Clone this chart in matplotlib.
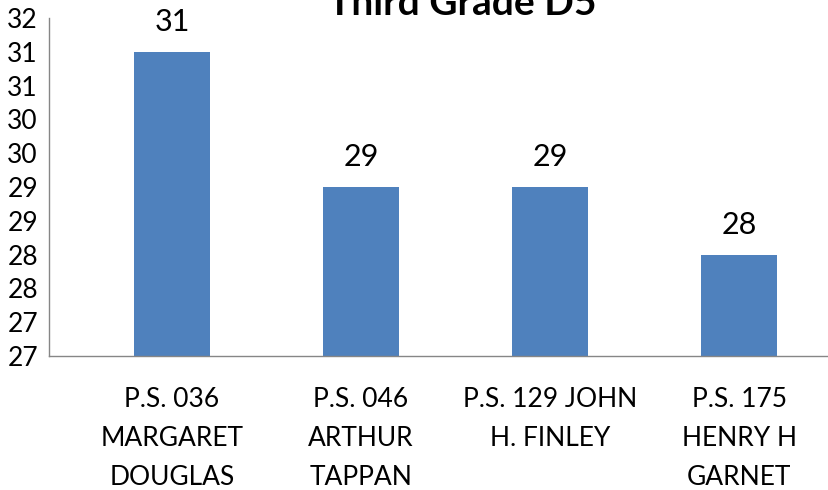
import numpy as np
import matplotlib.pyplot as plt
from matplotlib.ticker import FuncFormatter

plt.rcParams['font.family'] = ['Lato', 'DejaVu Sans']

# Data
schools = ["P.S. 036\nMARGARET\nDOUGLAS", "P.S. 046\nARTHUR\nTAPPAN",
           "P.S. 129 JOHN\nH. FINLEY", "P.S. 175\nHENRY H\nGARNET"]
scores = [31, 29, 29, 28]
title = "Third Grade D5"

fig = plt.figure(figsize=(8.29, 4.90), dpi=100)
ax = fig.add_axes([49 / 829, 1 - 356 / 490, 1 - 49 / 829, (356 - 18) / 490])

x = np.arange(len(scores))
bars = ax.bar(x, scores, width=0.4, color="#4F81BD", zorder=2)

ax.set_ylim(26.5, 31.5)
ax.set_yticks(np.arange(26.5, 31.51, 0.5))
# Excel-style rounding of the half-step ticks
ax.yaxis.set_major_formatter(FuncFormatter(lambda v, p: f"{int(np.floor(v + 0.5))}"))
ax.set_xlim(-0.65, 3.476)
ax.set_xticks(x)
ax.set_xticklabels(schools, fontsize=19, linespacing=1.7, va="top")

ax.tick_params(axis="both", length=0)
ax.tick_params(axis="y", labelsize=19, pad=8)
ax.tick_params(axis="x", pad=22)

for side in ("top", "right"):
    ax.spines[side].set_visible(False)
for side in ("left", "bottom"):
    ax.spines[side].set_color("#868686")
    ax.spines[side].set_linewidth(1)

for b, v in zip(bars, scores):
    ax.annotate(f"{v}", (b.get_x() + b.get_width() / 2, v), xytext=(0, 15),
                textcoords="offset points", ha="center", va="baseline", fontsize=22)

fig.text(462 / 829, 1 - 15 / 490, title, ha="center", va="baseline",
         fontsize=28, fontweight="bold")

fig.savefig("out.png", dpi=100)
